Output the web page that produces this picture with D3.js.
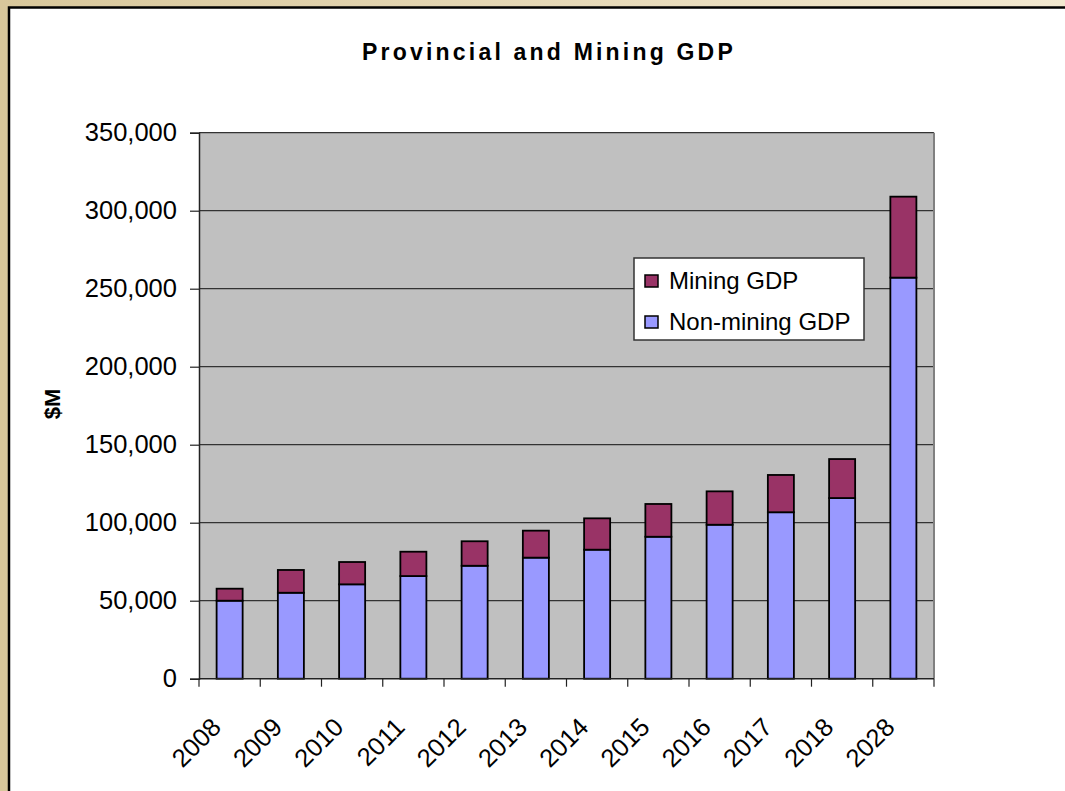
<!DOCTYPE html>
<html>
<head>
<meta charset="utf-8">
<script src="https://cdn.jsdelivr.net/npm/d3@7"></script>
<style>
  body { margin: 0; background: #fff; }
  svg { display: block; font-family: Arial, "Liberation Sans", sans-serif; }
</style>
</head>
<body>
<svg width="1065" height="791"></svg>
<script>
'use strict';

const years = ["2008", "2009", "2010", "2011", "2012", "2013", "2014", "2015", "2016", "2017", "2018", "2028"];
const nonMining = [50000, 55100, 60500, 65800, 72400, 77600, 82700, 91000, 98700, 106700, 115800, 257100];
const mining = [7700, 14600, 14300, 15600, 15700, 17300, 20100, 21000, 21400, 23900, 25000, 51900];
const yTicks = [0, 50000, 100000, 150000, 200000, 250000, 300000, 350000];
const seriesNames = ["Mining GDP", "Non-mining GDP"];
const seriesColors = ["#993366", "#9999FF"];

const svg = d3.select("svg");

// tan page frame with gradient
const defs = svg.append("defs");
const grad = defs.append("linearGradient").attr("id", "tan").attr("x1", "0").attr("x2", "1");
grad.append("stop").attr("offset", "0").attr("stop-color", "#D8C79B");
grad.append("stop").attr("offset", "1").attr("stop-color", "#F2E8D0");
svg.append("rect").attr("width", 1065).attr("height", 791).attr("fill", "url(#tan)");
svg.append("rect")
  .attr("x", 9).attr("y", 7.5).attr("width", 1100).attr("height", 850)
  .attr("fill", "#fff").attr("stroke", "#000").attr("stroke-width", 2.5);

const plot = { left: 199, right: 934, top: 132.7, bottom: 678.7 };

let x = d3.scaleBand()
  .domain(years)
  .range([plot.left, plot.right])
  .paddingInner(0.575)
  .paddingOuter(0.2875);

let y = d3.scaleLinear()
  .domain([0, 350000])
  .range([plot.bottom, plot.top]);

// plot background
svg.append("rect")
  .attr("x", plot.left).attr("y", plot.top)
  .attr("width", plot.right - plot.left).attr("height", plot.bottom - plot.top)
  .attr("fill", "#C0C0C0");

// gridlines
svg.append("g")
  .selectAll("line")
  .data(yTicks.filter(d => d > 0))
  .enter()
  .append("line")
  .attr("x1", plot.left).attr("x2", plot.right)
  .attr("y1", d => y(d)).attr("y2", d => y(d))
  .style("stroke", "#333")
  .style("stroke-width", 1.2);

// right border of plot area
svg.append("line")
  .attr("x1", plot.right).attr("x2", plot.right)
  .attr("y1", plot.top).attr("y2", plot.bottom)
  .style("stroke", "#808080").style("stroke-width", 2);

// stacked bars
let stackData = years.map((yr, i) => ({ year: yr, non: nonMining[i], mining: mining[i] }));
let stacked = d3.stack().keys(["non", "mining"])(stackData);
let colorOf = { non: seriesColors[1], mining: seriesColors[0] };

svg.append("g")
  .selectAll("g")
  .data(stacked)
  .enter()
  .append("g")
  .attr("fill", d => colorOf[d.key])
  .selectAll("rect")
  .data(d => d)
  .enter()
  .append("rect")
  .attr("x", d => x(d.data.year))
  .attr("width", x.bandwidth())
  .attr("y", d => y(d[1]))
  .attr("height", d => y(d[0]) - y(d[1]))
  .style("stroke", "#000")
  .style("stroke-width", 1.8);

// y axis
let yAxis = d3.axisLeft(y)
  .tickValues(yTicks)
  .tickSize(9)
  .tickPadding(13)
  .tickFormat(d3.format(","));

let yG = svg.append("g")
  .attr("transform", `translate(${plot.left},0)`)
  .call(yAxis);
yG.select(".domain").attr("stroke", "#222").attr("stroke-width", 1.5);
yG.selectAll(".tick line").attr("stroke", "#222").attr("stroke-width", 1.2);
yG.selectAll("text")
  .style("font-size", "25.5px")
  .style("font-family", "Arial, 'Liberation Sans', sans-serif")
  .attr("fill", "#000");

// x axis line + ticks at band boundaries
svg.append("line")
  .attr("x1", plot.left).attr("x2", plot.right)
  .attr("y1", plot.bottom).attr("y2", plot.bottom)
  .style("stroke", "#222").style("stroke-width", 1.5);

let boundaries = years.map(d => x(d) - x.step() * x.paddingInner() / 2).concat([plot.right]);
svg.append("g")
  .selectAll("line")
  .data(boundaries)
  .enter()
  .append("line")
  .attr("x1", d => d).attr("x2", d => d)
  .attr("y1", plot.bottom).attr("y2", plot.bottom + 8)
  .style("stroke", "#222").style("stroke-width", 1.2);

svg.append("g")
  .selectAll("text")
  .data(years)
  .enter()
  .append("text")
  .attr("transform", d => `translate(${x(d) + x.bandwidth() / 2 - 7},${plot.bottom + 50}) rotate(-45)`)
  .attr("text-anchor", "end")
  .style("font-size", "25.5px")
  .text(d => d);

// title
svg.append("text")
  .attr("x", 549)
  .attr("y", 60)
  .attr("text-anchor", "middle")
  .style("font-size", "23px")
  .style("font-weight", "bold")
  .style("letter-spacing", "3.2px")
  .text("Provincial and Mining GDP");

// y label
svg.append("text")
  .attr("transform", "translate(60,404) rotate(-90)")
  .attr("text-anchor", "middle")
  .style("font-size", "22px")
  .style("font-weight", "bold")
  .text("$M");

// legend
let legend = svg.append("g").attr("transform", "translate(634,258)");
legend.append("rect")
  .attr("width", 230).attr("height", 82)
  .attr("fill", "#fff").attr("stroke", "#333").attr("stroke-width", 1.5);

let items = legend.selectAll("g.item")
  .data(seriesNames)
  .enter()
  .append("g")
  .attr("class", "item")
  .attr("transform", (d, i) => `translate(0,${23 + i * 41})`);

items.append("rect")
  .attr("x", 11).attr("y", -6)
  .attr("width", 13).attr("height", 12)
  .attr("fill", (d, i) => seriesColors[i])
  .attr("stroke", "#000").attr("stroke-width", 1.5);

items.append("text")
  .attr("x", 35)
  .attr("y", 8)
  .style("font-size", "24px")
  .text(d => d);
</script>
</body>
</html>
